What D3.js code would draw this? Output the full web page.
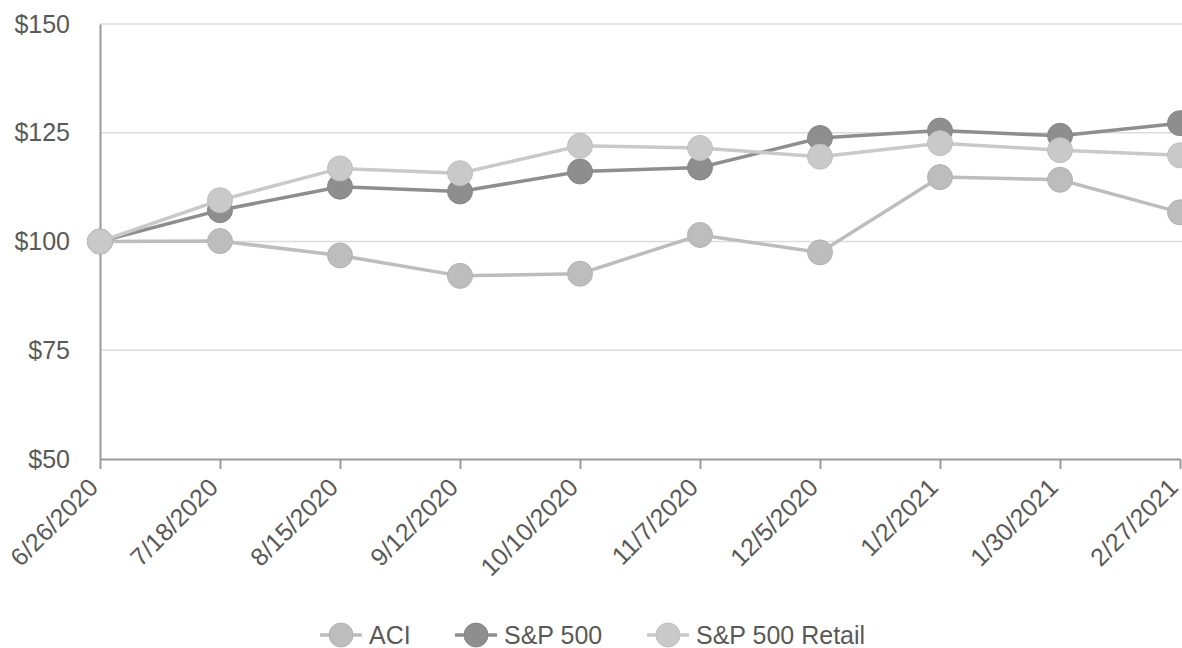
<!DOCTYPE html>
<html>
<head>
<meta charset="utf-8">
<script src="https://cdn.jsdelivr.net/npm/d3@7"></script>
<style>
html,body{margin:0;padding:0;background:#fff;}
svg{display:block;font-family:"Liberation Sans",Arial,sans-serif;}
</style>
</head>
<body>
<svg id="chart" width="1182" height="648"></svg>
<script>
const dates = ["6/26/2020","7/18/2020","8/15/2020","9/12/2020","10/10/2020","11/7/2020","12/5/2020","1/2/2021","1/30/2021","2/27/2021"];
const aci = [100, 100.1, 96.8, 92.1, 92.6, 101.5, 97.5, 114.8, 114.2, 106.7];
const sp500 = [100, 107.2, 112.6, 111.5, 116.1, 117.0, 123.8, 125.5, 124.3, 127.2];
const spRetail = [100, 109.5, 116.8, 115.7, 122.0, 121.5, 119.5, 122.6, 121.0, 119.8];
const yTicks = [50, 75, 100, 125, 150];
const seriesNames = ["ACI", "S&P 500", "S&P 500 Retail"];
const seriesColors = ["#bdbdbd", "#8e8e8e", "#c9c9c9"];

const svg = d3.select("#chart");
const x = d3.scalePoint().domain(dates).range([100, 1180]);
const y = d3.scaleLinear().domain([50, 150]).range([459, 24]);

// gridlines
svg.append("g").selectAll("line").data(yTicks.filter(d => d > 50)).join("line")
  .attr("x1", 100).attr("x2", 1182)
  .attr("y1", d => y(d)).attr("y2", d => y(d))
  .attr("stroke", "#dcdcdc").attr("stroke-width", 1.5);

// y axis
const yAxis = svg.append("g").attr("transform", "translate(100,0)")
  .call(d3.axisLeft(y).tickValues(yTicks).tickSize(0).tickPadding(30).tickFormat(d => "$" + d));
yAxis.select(".domain").attr("stroke", "#9a9a9a").attr("stroke-width", 2);
yAxis.selectAll("text").attr("font-size", 25).attr("fill", "#595959")
  .attr("font-family", "'Liberation Sans',Arial,sans-serif");

// x axis
const xAxis = svg.append("g").attr("transform", "translate(0,459)")
  .call(d3.axisBottom(x).tickSize(10).tickSizeOuter(0));
xAxis.select(".domain").attr("stroke", "#9a9a9a").attr("stroke-width", 2);
xAxis.selectAll(".tick line").attr("stroke", "#9a9a9a").attr("stroke-width", 2);
xAxis.selectAll("text")
  .attr("font-size", 25).attr("fill", "#595959")
  .attr("font-family", "'Liberation Sans',Arial,sans-serif")
  .attr("text-anchor", "end")
  .attr("y", 0).attr("dy", 0)
  .attr("transform", "translate(-1,30) rotate(-45)");

// series
const allSeries = [aci, sp500, spRetail];
const line = d3.line().x((d, i) => x(dates[i])).y(d => y(d));
allSeries.forEach((vals, si) => {
  const g = svg.append("g");
  g.append("path").datum(vals).attr("d", line)
    .attr("fill", "none").attr("stroke", seriesColors[si]).attr("stroke-width", 3.5);
  g.selectAll("circle").data(vals).join("circle")
    .attr("cx", (d, i) => x(dates[i])).attr("cy", d => y(d)).attr("r", 12.5)
    .attr("fill", seriesColors[si])
    .attr("stroke", d3.color(seriesColors[si]).darker(0.15)).attr("stroke-width", 1);
});

// legend
const legendX = [320, 455, 647];
const lg = svg.append("g").attr("transform", "translate(0,635)");
seriesNames.forEach((name, i) => {
  const g = lg.append("g").attr("transform", `translate(${legendX[i]},0)`);
  g.append("line").attr("x1", 0).attr("x2", 42).attr("y1", 0).attr("y2", 0)
    .attr("stroke", seriesColors[i]).attr("stroke-width", 3.5);
  g.append("circle").attr("cx", 21).attr("cy", 0).attr("r", 12)
    .attr("fill", seriesColors[i])
    .attr("stroke", d3.color(seriesColors[i]).darker(0.15)).attr("stroke-width", 1);
  g.append("text").attr("x", 49).attr("y", 0).attr("dy", "0.35em")
    .attr("font-size", 25).attr("fill", "#595959").text(name);
});
</script>
</body>
</html>
